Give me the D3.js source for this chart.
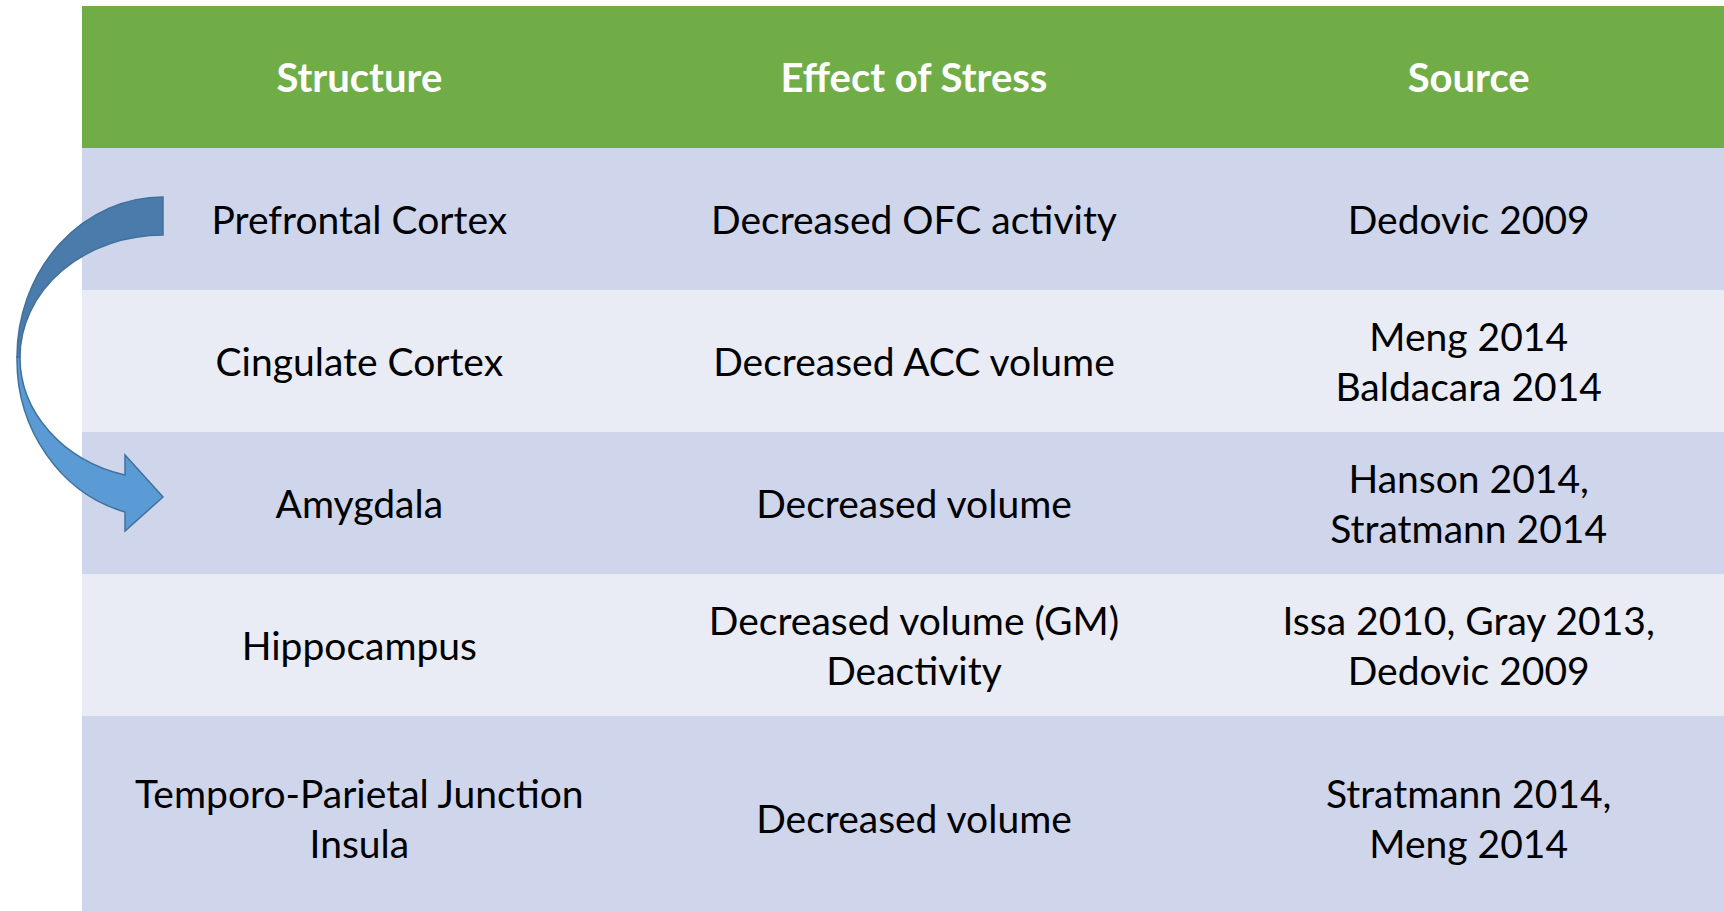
<!DOCTYPE html>
<html>
<head>
<meta charset="utf-8">
<script src="https://cdn.jsdelivr.net/npm/d3@7"></script>
<style>
  body { margin: 0; background: #fff; }
  svg { display: block; }
</style>
</head>
<body>
<div id="table"></div>
<script>
// Table content

let headers = ['Structure', 'Effect of Stress', 'Source'];

let structures = [
    ['Prefrontal Cortex'],
    ['Cingulate Cortex'],
    ['Amygdala'],
    ['Hippocampus'],
    ['Temporo-Parietal Junction', 'Insula'],
];

let effects = [
    ['Decreased OFC activity'],
    ['Decreased ACC volume'],
    ['Decreased volume'],
    ['Decreased volume (GM)', 'Deactivity'],
    ['Decreased volume'],
];

let sources = [
    ['Dedovic 2009'],
    ['Meng 2014', 'Baldacara 2014'],
    ['Hanson 2014,', 'Stratmann 2014'],
    ['Issa 2010, Gray 2013,', 'Dedovic 2009'],
    ['Stratmann 2014,', 'Meng 2014'],
];

let width = 1724;
let height = 911;
let table_left = 82;
let table_right = 1746;
let table_top = 6;
let row_h = 142;
let last_row_h = 204;
let line_gap = 50;
let font = 'Lato, "Open Sans", sans-serif';

let svg = d3.select('#table')
    .append('svg')
    .attr('width', width)
    .attr('height', height);

// scales
let x_scale = d3.scaleBand()
    .domain(d3.range(headers.length))
    .range([table_left, table_right]);

let n_rows = structures.length;
let row_tops = d3.range(n_rows + 1).map(i => table_top + i * row_h);
let row_heights = d3.range(n_rows + 1).map(i => i === n_rows ? last_row_h : row_h);

// rows: index 0 is the header
let rows = [headers.map(h => [h])].concat(
    d3.range(n_rows).map(i => [structures[i], effects[i], sources[i]])
);

let fills = ['#70AD47', '#CFD5EA', '#E9EBF5'];

svg.selectAll('rect.row')
    .data(rows)
    .enter()
    .append('rect')
    .attr('class', 'row')
    .attr('x', table_left)
    .attr('y', (d, i) => row_tops[i])
    .attr('width', table_right - table_left)
    .attr('height', (d, i) => row_heights[i])
    .attr('fill', (d, i) => i === 0 ? fills[0] : (i % 2 ? fills[1] : fills[2]));

// cells
let cells = [];
rows.forEach((r, i) => {
    r.forEach((lines, j) => {
        cells.push({ row: i, col: j, lines: lines });
    });
});

let cell_text = svg.append('g').selectAll('text')
    .data(cells)
    .enter()
    .append('text')
    .attr('text-anchor', 'middle')
    .attr('font-family', font)
    .attr('font-size', d => d.row === 0 ? 40 : 39)
    .attr('font-weight', d => d.row === 0 ? 'bold' : 'normal')
    .attr('fill', d => d.row === 0 ? '#ffffff' : '#000000');

cell_text.each(function (d) {
    let cy = row_tops[d.row] + row_heights[d.row] / 2 + 15;
    let cx = x_scale(d.col) + x_scale.bandwidth() / 2;
    let first = cy - (d.lines.length - 1) * line_gap / 2;
    d3.select(this).selectAll('tspan')
        .data(d.lines)
        .enter()
        .append('tspan')
        .attr('x', cx)
        .attr('y', (l, k) => first + k * line_gap)
        .text(l => l);
});

// curved arrow from first row to third row
let tail_y = row_tops[1] + row_heights[1] / 2 - 3;
let head_y = row_tops[3] + row_heights[3] / 2 - 6;
let ax = 163;       // right end of tail / arrow tip
let left = 17;
let mid_y = 357;
let neck_x = 125;

let dark = 'M' + ax + ',' + (tail_y - 19) +
    ' A146,160 0 0 0 ' + left + ',' + mid_y +
    ' L' + (left + 3) + ',' + mid_y +
    ' A143,122 0 0 1 ' + ax + ',' + (tail_y + 19) + ' Z';

let light = 'M' + left + ',' + mid_y +
    ' A146,158 0 0 0 ' + neck_x + ',' + (head_y + 15) +
    ' L' + neck_x + ',' + (head_y + 34) +
    ' L' + ax + ',' + head_y +
    ' L' + neck_x + ',' + (head_y - 42) +
    ' L' + neck_x + ',' + (head_y - 22) +
    ' A143,122 0 0 1 ' + (left + 3) + ',' + mid_y + ' Z';

svg.append('path')
    .attr('d', light)
    .attr('fill', '#5B9BD5')
    .attr('stroke', '#41719C')
    .attr('stroke-width', 1.5);

svg.append('path')
    .attr('d', dark)
    .attr('fill', '#4A7BAB')
    .attr('stroke', '#41719C')
    .attr('stroke-width', 1.5);
</script>
</body>
</html>
